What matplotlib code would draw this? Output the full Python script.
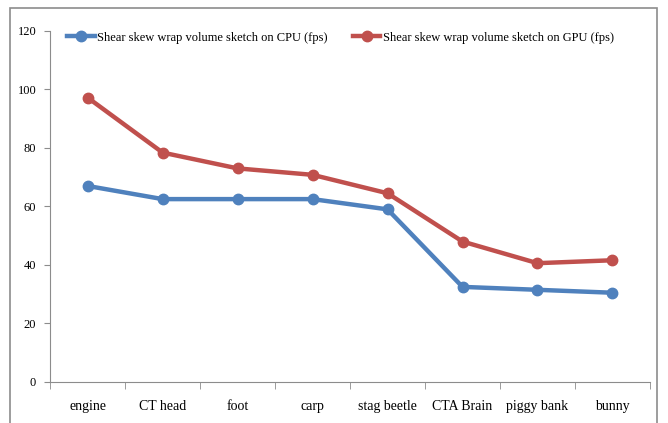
import matplotlib.pyplot as plt
from matplotlib.patches import Rectangle
import numpy as np

# данные
categories = ['engine', 'CT head', 'foot', 'carp', 'stag beetle', 'CTA Brain', 'piggy bank', 'bunny']
cpu_fps = [67, 62.5, 62.5, 62.5, 59, 32.5, 31.5, 30.5]
gpu_fps = [97.2, 78.4, 73.0, 70.8, 64.5, 48.0, 40.6, 41.6]
yticks = [0, 20, 40, 60, 80, 100, 120]

plt.rcParams['font.family'] = ['Liberation Serif', 'DejaVu Serif']

fig = plt.figure(figsize=(6.68, 4.23), dpi=100)
ax = fig.add_axes([0.075, 0.097, 0.898, 0.83])

# рамка вокруг всей диаграммы
fig.patches.append(Rectangle((10 / 668, -0.05), 647 / 668, 1 - 8 / 423 + 0.05,
                             transform=fig.transFigure, fill=False,
                             edgecolor='#8c8c8c', linewidth=1.2))

x = np.arange(len(categories))
ax.plot(x, cpu_fps, color='#4F81BD', linewidth=3.2, marker='o', markersize=7.5,
        label='Shear skew wrap volume sketch on CPU (fps)')
ax.plot(x, gpu_fps, color='#C0504D', linewidth=3.2, marker='o', markersize=7.5,
        label='Shear skew wrap volume sketch on GPU (fps)')

ax.set_xlim(-0.5, len(categories) - 0.5)
ax.set_ylim(0, 120)
ax.set_yticks(yticks)
ax.set_xticks(x)
ax.set_xticklabels(categories)
ax.set_xticks(np.arange(len(categories) + 1) - 0.5, minor=True)
ax.tick_params(axis='x', which='major', length=0, pad=13, labelsize=10)
ax.tick_params(axis='x', which='minor', length=5, color='#8c8c8c', direction='out')
ax.tick_params(axis='y', length=4, color='#8c8c8c', labelsize=9, pad=6)

for side in ['top', 'right']:
    ax.spines[side].set_visible(False)
for side in ['left', 'bottom']:
    ax.spines[side].set_color('#8c8c8c')

ax.legend(loc='upper left', bbox_to_anchor=(0.01, 1.03), ncol=2, frameon=False,
          fontsize=9, handlelength=2.2, columnspacing=2.0, handletextpad=0.2)

plt.savefig('out.png', dpi=100)
